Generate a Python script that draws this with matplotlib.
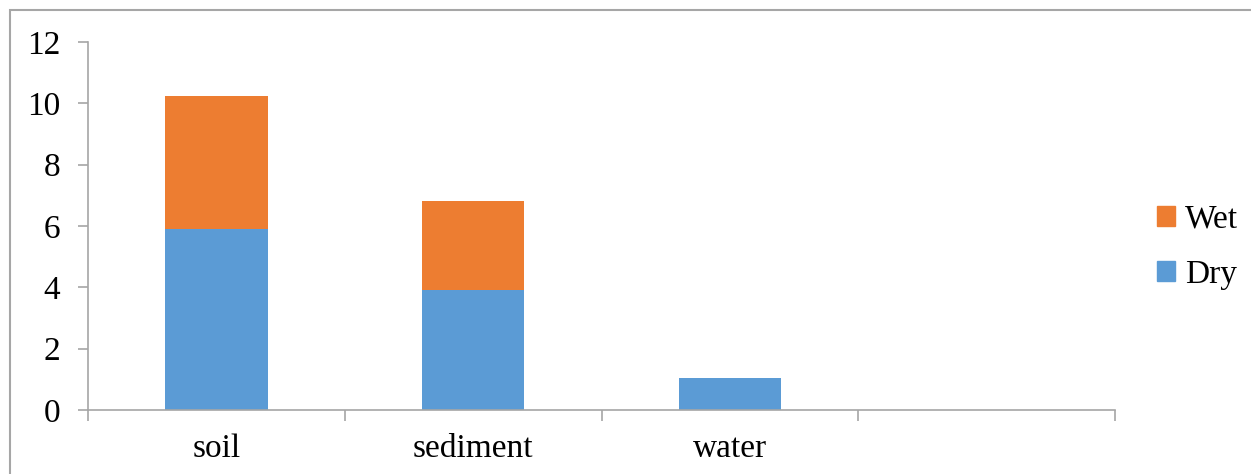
import matplotlib.pyplot as plt
import matplotlib.patches as mpatches
import numpy as np

categories = ["soil", "sediment", "water", ""]
dry = [5.9, 3.92, 1.04, 0]
wet = [4.34, 2.88, 0, 0]
yticks = [0, 2, 4, 6, 8, 10, 12]

plt.rcParams['font.family'] = ['Liberation Serif', 'DejaVu Serif']

fig = plt.figure(figsize=(12.51, 4.74), dpi=100)
ax = fig.add_axes([88/1251, 1-410/474, (1115-88)/1251, (410-42)/474])

blue = '#5B9BD5'
orange = '#ED7D31'
x = np.arange(len(categories))
ax.bar(x, dry, width=0.4, color=blue, label='Dry')
ax.bar(x, wet, width=0.4, bottom=dry, color=orange, label='Wet')

ax.set_xlim(-0.5, len(categories) - 0.5)
ax.set_ylim(0, 12)
ax.set_yticks(yticks)
ax.set_yticklabels([str(v) for v in yticks], fontsize=24)
ax.set_xticks(x)
ax.set_xticklabels(categories, fontsize=24)
ax.tick_params(axis='x', length=0, pad=17)
# boundary ticks
ax.set_xticks(np.arange(-0.5, len(categories) + 0.5, 1), minor=True)
ax.tick_params(axis='x', which='minor', length=8, color='#a6a6a6', width=1.2, direction='out')
ax.tick_params(axis='y', length=7, color='#a6a6a6', width=1.2, pad=13)

for s in ['top', 'right']:
    ax.spines[s].set_visible(False)
for s in ['left', 'bottom']:
    ax.spines[s].set_color('#a6a6a6')
    ax.spines[s].set_linewidth(1.2)

handles = [mpatches.Patch(color=orange, label='Wet'), mpatches.Patch(color=blue, label='Dry')]
fig.legend(handles=handles, loc='center left', bbox_to_anchor=(1127/1251, 1-247/474),
           frameon=False, fontsize=24, handlelength=0.55, handleheight=0.55,
           handletextpad=0.3, labelspacing=0.75)

# outer border
fig.add_artist(plt.Rectangle((10/1251, -0.1), 1.2, 1.1 - 10/474,
                             transform=fig.transFigure, fill=False,
                             edgecolor='#a6a6a6', linewidth=1.5))

fig.savefig('out.png', dpi=100)
